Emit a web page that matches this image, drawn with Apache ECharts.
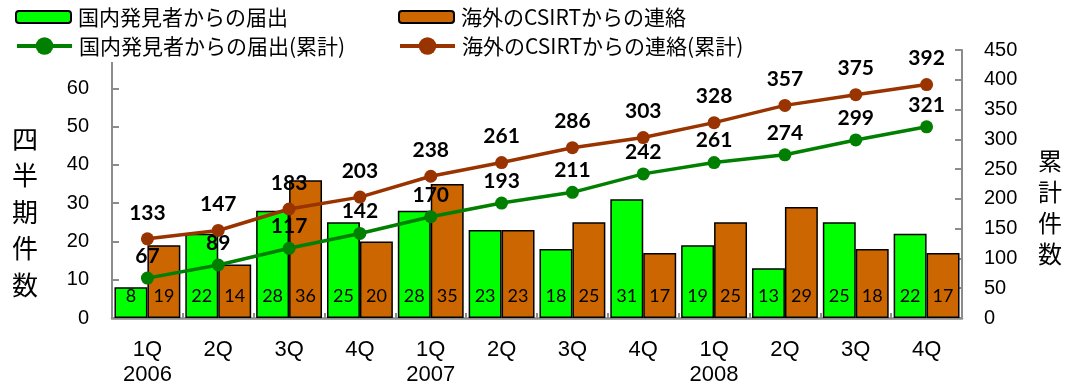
<!DOCTYPE html>
<html>
<head>
<meta charset="utf-8">
<script src="https://cdn.jsdelivr.net/npm/echarts@6/dist/echarts.min.js"></script>
<style>
  html, body { margin: 0; padding: 0; background: #fff; }
  #chart { width: 1070px; height: 390px; }
</style>
</head>
<body>
<div id="chart"></div>
<script>
// Quarterly incident reports, 2006–2008
const quarters = ['1Q\n2006', '2Q', '3Q', '4Q', '1Q\n2007', '2Q', '3Q', '4Q', '1Q\n2008', '2Q', '3Q', '4Q'];
const domestic = [8, 22, 28, 25, 28, 23, 18, 31, 19, 13, 25, 22];
const overseas = [19, 14, 36, 20, 35, 23, 25, 17, 25, 29, 18, 17];
const domesticCumulative = [67, 89, 117, 142, 170, 193, 211, 242, 261, 274, 299, 321];
const overseasCumulative = [133, 147, 183, 203, 238, 261, 286, 303, 328, 357, 375, 392];
const leftTicks = { min: 0, max: 70, interval: 10 };
const rightTicks = { min: 0, max: 450, interval: 50 };

const names = ['国内発見者からの届出', '海外のCSIRTからの連絡', '国内発見者からの届出(累計)', '海外のCSIRTからの連絡(累計)'];

const jp = '"Noto Sans CJK JP", "Noto Sans", sans-serif';
const num = '"Liberation Sans", Arial, sans-serif';
const lbl = 'Lato, "Open Sans", sans-serif';
const axisGray = '#8c8c8c';

const chart = echarts.init(document.getElementById('chart'), null, { renderer: 'canvas' });

// one legend entry per component so bar and line icons can be sized separately
function legendEntry(name, left, top, itemHeight, extra) {
  return Object.assign({
    data: [name],
    left: left, top: top,
    padding: [4, 4, 4, 4],
    itemWidth: 55,
    itemHeight: itemHeight,
    backgroundColor: '#ffffff',
    textStyle: { fontFamily: jp, fontSize: 21, color: '#000', lineHeight: 24, padding: [0, 0, 0, 2] }
  }, extra || {});
}

const lineLegend = { lineStyle: { width: 4 } };

chart.setOption({
  animation: false,
  backgroundColor: '#ffffff',
  legend: [
    legendEntry(names[0], 11, 1, 12),
    legendEntry(names[2], 11, 30, 22, lineLegend),
    legendEntry(names[1], 394, 1, 12),
    legendEntry(names[3], 394, 30, 22, lineLegend)
  ],
  grid: { left: 112, right: 108, top: 50, bottom: 72 },
  xAxis: {
    type: 'category',
    data: quarters,
    axisLine: { lineStyle: { color: axisGray, width: 2.5 } },
    axisTick: { show: true, inside: true, length: 5, lineStyle: { color: axisGray, width: 2 } },
    axisLabel: { fontFamily: num, fontSize: 22, color: '#000', lineHeight: 25, margin: 19 }
  },
  yAxis: [
    {
      type: 'value',
      min: leftTicks.min, max: leftTicks.max, interval: leftTicks.interval,
      splitLine: { show: false },
      axisLine: { show: true, lineStyle: { color: axisGray, width: 2 } },
      axisTick: { show: true, inside: true, length: 7, lineStyle: { color: axisGray, width: 2 } },
      axisLabel: { fontFamily: num, fontSize: 20, color: '#000', margin: 23, showMaxLabel: false }
    },
    {
      type: 'value',
      min: rightTicks.min, max: rightTicks.max, interval: rightTicks.interval,
      splitLine: { show: false },
      axisLine: { show: true, lineStyle: { color: axisGray, width: 2 } },
      axisTick: { show: true, inside: true, length: 7, lineStyle: { color: axisGray, width: 2 } },
      axisLabel: { fontFamily: num, fontSize: 20, color: '#000', margin: 22 }
    }
  ],
  graphic: [
    {
      type: 'text', x: 25, y: 212,
      style: {
        text: '四\n半\n期\n件\n数', fontFamily: jp, fontSize: 26, lineHeight: 36.5,
        fill: '#000', textAlign: 'center', textVerticalAlign: 'middle'
      }
    },
    {
      type: 'text', x: 1050, y: 207,
      style: {
        text: '累\n計\n件\n数', fontFamily: jp, fontSize: 24, lineHeight: 31,
        fill: '#000', textAlign: 'center', textVerticalAlign: 'middle'
      }
    }
  ],
  series: [
    {
      name: names[0], type: 'bar', yAxisIndex: 0, data: domestic,
      barGap: '0%', barCategoryGap: '7%',
      itemStyle: { color: '#00ff00', borderColor: '#000', borderWidth: 1.5 },
      label: { show: true, position: 'insideBottom', distance: 13, fontFamily: lbl, fontSize: 18, color: '#000' },
      z: 2
    },
    {
      name: names[1], type: 'bar', yAxisIndex: 0, data: overseas,
      barGap: '0%', barCategoryGap: '7%',
      itemStyle: { color: '#cc6600', borderColor: '#000', borderWidth: 1.5 },
      label: { show: true, position: 'insideBottom', distance: 13, fontFamily: lbl, fontSize: 18, color: '#000' },
      z: 2
    },
    {
      name: names[2], type: 'line', yAxisIndex: 1, data: domesticCumulative,
      color: '#007f00',
      symbol: 'circle', symbolSize: 13,
      lineStyle: { width: 3.5, color: '#007f00' },
      itemStyle: { color: '#007f00' },
      label: { show: true, position: 'top', distance: 5, fontFamily: lbl, fontWeight: 'bold', fontSize: 21, color: '#000' },
      z: 5
    },
    {
      name: names[3], type: 'line', yAxisIndex: 1, data: overseasCumulative,
      color: '#993300',
      symbol: 'circle', symbolSize: 13,
      lineStyle: { width: 3.5, color: '#993300' },
      itemStyle: { color: '#993300' },
      label: { show: true, position: 'top', distance: 9, fontFamily: lbl, fontWeight: 'bold', fontSize: 21, color: '#000' },
      z: 5
    }
  ]
});
</script>
</body>
</html>
